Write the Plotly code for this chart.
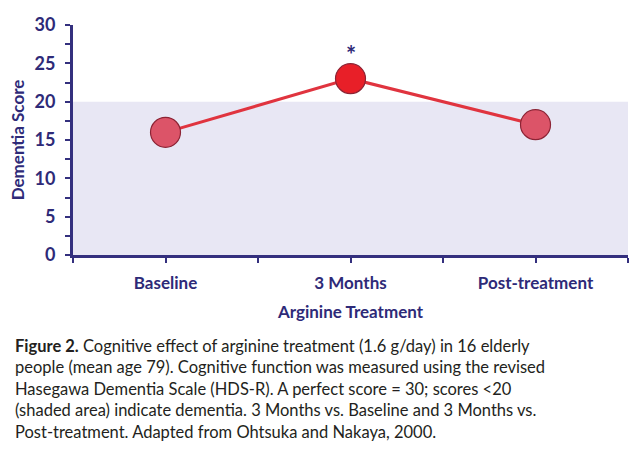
import plotly.graph_objects as go

categories = ["Baseline", "3 Months", "Post-treatment"]
scores = [16, 23, 17]
point_colors = ["#dc5468", "#e81f28", "#dc5468"]
significance = ["", "*", ""]
dementia_threshold = 20
y_ticks = [0, 5, 10, 15, 20, 25, 30]

caption = ("<b>Figure 2.</b> Cognitive effect of arginine treatment (1.6 g/day) in 16 elderly<br>"
           "people (mean age 79). Cognitive function was measured using the revised<br>"
           "Hasegawa Dementia Scale (HDS-R). A perfect score = 30; scores &lt;20<br>"
           "(shaded area) indicate dementia. 3 Months vs. Baseline and 3 Months vs.<br>"
           "Post-treatment. Adapted from Ohtsuka and Nakaya, 2000.")

NAVY = "#2e2a78"
AXIS = "#34307e"
FONT = "Lato"

xi = list(range(len(categories)))
x_tickvals = [i / 2 - 0.5 for i in range(2 * len(categories) + 1)]
x_ticktext = [categories[int(v)] if float(v).is_integer() else "" for v in x_tickvals]

fig = go.Figure()
fig.add_shape(type="rect", xref="x", yref="y", x0=-0.5, x1=len(categories) - 0.5,
              y0=0, y1=dementia_threshold, fillcolor="#e8e7f4", line_width=0, layer="below")

fig.add_trace(go.Scatter(
    x=xi, y=scores, mode="lines+markers",
    line=dict(color="#e0343f", width=3),
    marker=dict(size=30, color=point_colors, line=dict(color="#8c2435", width=1.2), opacity=1),
    hoverinfo="skip", showlegend=False, cliponaxis=False,
))

for x, y, s in zip(xi, scores, significance):
    if s:
        fig.add_annotation(x=x, y=y, text="<b>" + s + "</b>", showarrow=False, yshift=24,
                           font=dict(family=FONT, size=24, color=NAVY))

fig.add_annotation(xref="paper", yref="paper", x=-0.108, y=-0.345, xanchor="left", yanchor="top",
                   text=caption, showarrow=False, align="left",
                   font=dict(family=FONT, size=16.5, color="#231f20"))

fig.update_xaxes(
    range=[-0.5, len(categories) - 0.5], tickmode="array", tickvals=x_tickvals, ticktext=x_ticktext,
    showline=True, linecolor=AXIS, linewidth=3, ticks="outside", ticklen=5, tickwidth=2,
    tickcolor=AXIS, showgrid=False, zeroline=False, ticklabelstandoff=6,
    tickfont=dict(family=FONT, size=17, color=NAVY, weight="bold"),
    title=dict(text="<b>Arginine Treatment</b>", standoff=14,
               font=dict(family=FONT, size=17, color=NAVY)),
)
fig.update_yaxes(
    range=[0, 30], tickmode="array", tickvals=y_ticks,
    showline=True, linecolor=AXIS, linewidth=3, ticks="outside", ticklen=5, tickwidth=2,
    tickcolor=AXIS, showgrid=False, zeroline=False, ticklabelstandoff=6,
    minor=dict(ticks="outside", dtick=2.5, ticklen=5, tickwidth=2, tickcolor=AXIS, showgrid=False),
    tickfont=dict(family=FONT, size=18, color=NAVY, weight="bold"),
    title=dict(text="<b>Dementia Score</b>", standoff=6,
               font=dict(family=FONT, size=17, color=NAVY)),
)

fig.update_layout(
    width=640, height=453, margin=dict(l=73, r=12, t=25, b=198),
    plot_bgcolor="white", paper_bgcolor="white",
)

fig.write_html("out.html")
